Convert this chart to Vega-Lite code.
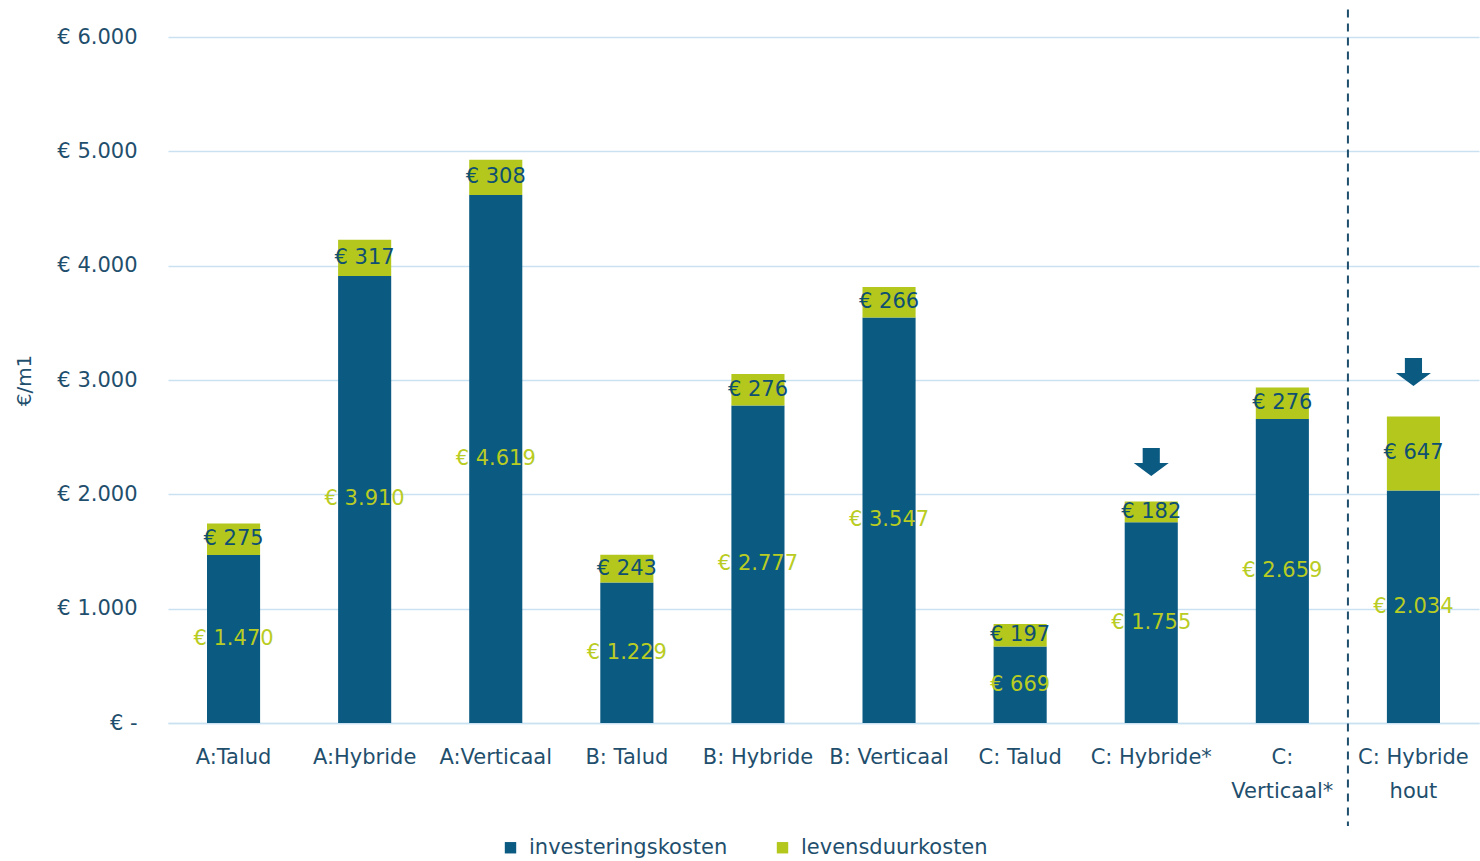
{
  "$schema": "https://vega.github.io/schema/vega-lite/v6.json",
  "width": 1311,
  "height": 686,
  "autosize": {"type": "none"},
  "padding": {"left": 168, "top": 37, "right": 1, "bottom": 138},
  "background": "white",
  "config": {
    "font": "DejaVu Sans",
    "view": {"stroke": null}
  },
  "datasets": {
    "kosten": [
      {"scenario": "A:Talud", "type": "investeringskosten", "value": 1470},
      {"scenario": "A:Talud", "type": "levensduurkosten", "value": 275},
      {"scenario": "A:Hybride", "type": "investeringskosten", "value": 3910},
      {"scenario": "A:Hybride", "type": "levensduurkosten", "value": 317},
      {"scenario": "A:Verticaal", "type": "investeringskosten", "value": 4619},
      {"scenario": "A:Verticaal", "type": "levensduurkosten", "value": 308},
      {"scenario": "B: Talud", "type": "investeringskosten", "value": 1229},
      {"scenario": "B: Talud", "type": "levensduurkosten", "value": 243},
      {"scenario": "B: Hybride", "type": "investeringskosten", "value": 2777},
      {"scenario": "B: Hybride", "type": "levensduurkosten", "value": 276},
      {"scenario": "B: Verticaal", "type": "investeringskosten", "value": 3547},
      {"scenario": "B: Verticaal", "type": "levensduurkosten", "value": 266},
      {"scenario": "C: Talud", "type": "investeringskosten", "value": 669},
      {"scenario": "C: Talud", "type": "levensduurkosten", "value": 197},
      {"scenario": "C: Hybride*", "type": "investeringskosten", "value": 1755},
      {"scenario": "C: Hybride*", "type": "levensduurkosten", "value": 182},
      {"scenario": "C: Verticaal*", "type": "investeringskosten", "value": 2659},
      {"scenario": "C: Verticaal*", "type": "levensduurkosten", "value": 276},
      {"scenario": "C: Hybride hout", "type": "investeringskosten", "value": 2034},
      {"scenario": "C: Hybride hout", "type": "levensduurkosten", "value": 647}
    ],
    "pijlen": [
      {"scenario": "C: Hybride*", "value": 2283},
      {"scenario": "C: Hybride hout", "value": 3070}
    ]
  },
  "encoding": {
    "x": {
      "field": "scenario",
      "type": "nominal",
      "sort": null,
      "scale": {
        "domain": ["A:Talud", "A:Hybride", "A:Verticaal", "B: Talud", "B: Hybride", "B: Verticaal", "C: Talud", "C: Hybride*", "C: Verticaal*", "C: Hybride hout"],
        "paddingInner": 0.595,
        "paddingOuter": 0.2975
      },
      "axis": {
        "title": null,
        "labelAngle": 0,
        "labelFontSize": 21,
        "labelColor": "#1f4f6d",
        "labelPadding": 23,
        "labelLineHeight": 34,
        "labelLimit": 200,
        "ticks": false,
        "domain": true,
        "domainColor": "#c9e1f1",
        "domainWidth": 1.5,
        "labelExpr": "datum.value == 'C: Verticaal*' ? ['C:', 'Verticaal*'] : datum.value == 'C: Hybride hout' ? ['C: Hybride', 'hout'] : datum.value"
      }
    }
  },
  "layer": [
    {
      "data": {"name": "kosten"},
      "mark": {"type": "bar"},
      "encoding": {
        "y": {
          "field": "value",
          "type": "quantitative",
          "stack": "zero",
          "scale": {"domain": [0, 6000], "nice": false},
          "axis": {
            "title": "€/m1",
            "titleFontSize": 20,
            "titleFontWeight": "normal",
            "titleColor": "#1f4f6d",
            "titleX": -134,
            "titleY": 343,
            "values": [0, 1000, 2000, 3000, 4000, 5000, 6000],
            "labelExpr": "datum.value == 0 ? '€ -' : '€ ' + replace(format(datum.value, ',.0f'), ',', '.')",
            "labelFontSize": 21,
            "labelColor": "#1f4f6d",
            "labelPadding": 31,
            "ticks": false,
            "domain": false,
            "grid": true,
            "gridColor": "#c9e1f1",
            "gridWidth": 1.5
          }
        },
        "order": {"field": "type"},
        "color": {
          "field": "type",
          "type": "nominal",
          "scale": {
            "domain": ["investeringskosten", "levensduurkosten"],
            "range": ["#0b5a82", "#b3c71d"]
          },
          "legend": {
            "title": null,
            "orient": "none",
            "direction": "horizontal",
            "legendX": 332,
            "legendY": 800,
            "symbolType": "square",
            "symbolSize": 130,
            "symbolStrokeWidth": 0,
            "labelFontSize": 21,
            "labelLimit": 400,
            "labelColor": "#1f4f6d",
            "labelOffset": 8,
            "columnPadding": 44
          }
        }
      }
    },
    {
      "data": {"name": "kosten"},
      "transform": [
        {"calculate": "'€ ' + replace(format(datum.value, ',.0f'), ',', '.')", "as": "label"}
      ],
      "mark": {"type": "text", "fontSize": 21, "align": "center", "baseline": "middle"},
      "encoding": {
        "y": {"field": "value", "type": "quantitative", "stack": "zero", "bandPosition": 0.5},
        "detail": {"field": "type"},
        "order": {"field": "type"},
        "text": {"field": "label"},
        "color": {
          "condition": {"test": "datum.type === 'investeringskosten'", "value": "#b9cc23"},
          "value": "#0e4f72"
        }
      }
    },
    {
      "data": {"name": "pijlen"},
      "mark": {
        "type": "point",
        "shape": "M-0.49,-0.8 L0.49,-0.8 L0.49,0.06 L1,0.06 L0,0.8 L-1,0.06 L-0.49,0.06 Z",
        "size": 1225,
        "filled": true,
        "opacity": 1,
        "strokeWidth": 0,
        "color": "#0b5a82"
      },
      "encoding": {
        "y": {"field": "value", "type": "quantitative"}
      }
    },
    {
      "data": {"values": [{"scenario": "C: Hybride hout"}]},
      "mark": {"type": "rule", "strokeDash": [8, 6], "strokeWidth": 2, "color": "#1f4f6d"},
      "encoding": {
        "x": {"field": "scenario", "type": "nominal", "bandPosition": -0.734},
        "y": {"datum": 6240, "type": "quantitative"},
        "y2": {"datum": -900}
      }
    }
  ]
}
